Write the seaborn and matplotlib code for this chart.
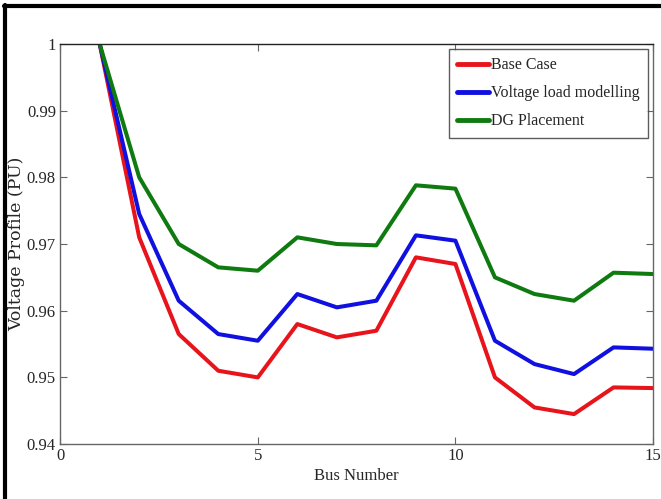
import pandas as pd
import matplotlib.pyplot as plt
import seaborn as sns
from matplotlib.lines import Line2D

# Bus voltages (per unit)
bus = list(range(1, 16))
base_case = [1.0, 0.971, 0.9565, 0.951, 0.950, 0.958, 0.956, 0.957,
             0.968, 0.967, 0.950, 0.9455, 0.9445, 0.9485, 0.9484]
voltage_load = [1.0, 0.9745, 0.9615, 0.9565, 0.9555, 0.9625, 0.9605, 0.9615,
                0.9713, 0.9705, 0.9555, 0.952, 0.9505, 0.9545, 0.9543]
dg_placement = [1.0, 0.980, 0.970, 0.9665, 0.966, 0.971, 0.970, 0.9698,
                0.9788, 0.9783, 0.965, 0.9625, 0.9615, 0.9657, 0.9655]

series = ['Base Case', 'Voltage load modelling', 'DG Placement']
colors = ['#e8141c', '#1010e0', '#0f7a0f']
y_ticks = [0.94, 0.95, 0.96, 0.97, 0.98, 0.99, 1.0]
y_tick_labels = ['0.94', '0.95', '0.96', '0.97', '0.98', '0.99', '1']
x_ticks = [0, 5, 10, 15]

df = pd.DataFrame({
    'Bus': bus * 3,
    'Voltage': base_case + voltage_load + dg_placement,
    'Case': [s for s in series for _ in bus],
})

sns.set_style('white')
plt.rcParams['font.family'] = ['Liberation Serif', 'DejaVu Serif']

fig = plt.figure(figsize=(6.61, 4.99), dpi=100)
ax = fig.add_axes([0.091, 0.110, 0.897, 0.802])

sns.lineplot(data=df, x='Bus', y='Voltage', hue='Case', hue_order=series,
             palette=colors, linewidth=2.9, ax=ax)

ax.set_xlim(0, 15)
ax.set_ylim(0.94, 1.0)
ax.set_xticks(x_ticks)
ax.set_xticklabels([str(t) for t in x_ticks])
ax.set_yticks(y_ticks)
ax.set_yticklabels(y_tick_labels)
ax.tick_params(direction='in', length=5, labelsize=12, top=True, right=True,
               bottom=True, left=True, color='#666666', pad=3)
for s in ax.spines.values():
    s.set_color('#666666')
    s.set_linewidth(1.0)
ax.spines['top'].set_color('#222222')

ax.set_xlabel('Bus Number', fontsize=12, labelpad=3)
ax.set_ylabel('Voltage Profile (PU)', fontsize=12.5, family=['DejaVu Serif'],
              labelpad=1)

leg = ax.legend(loc='upper right', fontsize=11.5, frameon=True, fancybox=False,
                edgecolor='#333333', handlelength=2.0, handletextpad=0.1,
                borderaxespad=0.3, labelspacing=0.75, borderpad=0.55)
leg.get_frame().set_linewidth(1.0)
for h in leg.get_lines():
    h.set_linewidth(3.5)

# thick black frame on the left and top edges of the picture
fig.add_artist(Line2D([0.008, 0.008], [0.0, 0.99], transform=fig.transFigure,
                      color='black', linewidth=3.0))
fig.add_artist(Line2D([0.006, 1.0], [0.988, 0.988], transform=fig.transFigure,
                      color='black', linewidth=3.0))

fig.savefig('out.png', dpi=100)
